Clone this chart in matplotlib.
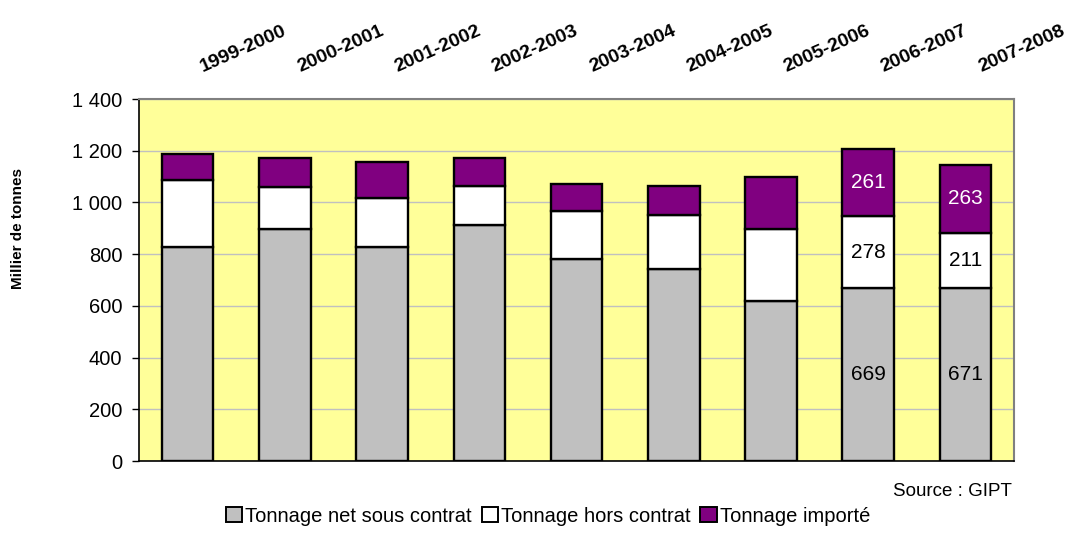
import matplotlib
matplotlib.use('Agg')
import matplotlib.pyplot as plt
import matplotlib.transforms as mtransforms
from matplotlib.patches import Patch
import numpy as np

plt.rcParams['font.family'] = ['Liberation Sans', 'DejaVu Sans']

# --- data (milliers de tonnes) ---
campagnes = ['1999-2000', '2000-2001', '2001-2002', '2002-2003', '2003-2004',
             '2004-2005', '2005-2006', '2006-2007', '2007-2008']
sous_contrat = [828, 896, 826, 911, 782, 744, 617, 669, 671]
hors_contrat = [259, 165, 190, 154, 186, 206, 281, 278, 211]
importe = [100, 112, 141, 108, 105, 114, 200, 261, 263]
show_labels = [False, False, False, False, False, False, False, True, True]

series_names = ['Tonnage net sous contrat', 'Tonnage hors contrat', 'Tonnage importé']
colors = ['#C0C0C0', '#FFFFFF', '#800080']
label_colors = ['black', 'black', 'white']

# --- figure ---
fig = plt.figure(figsize=(10.7, 5.37), dpi=100)
ax = fig.add_axes([0.1299, 0.1415, 0.8178, 0.6741])
ax.set_facecolor('#FFFF99')

x = np.arange(len(campagnes))
bottom = np.zeros(len(campagnes))
for vals, col, lcol in zip([sous_contrat, hors_contrat, importe], colors, label_colors):
    vals = np.array(vals)
    ax.bar(x, vals, 0.53, bottom=bottom, color=col, edgecolor='black',
           linewidth=1.7, zorder=3)
    for i in range(len(x)):
        if show_labels[i]:
            ax.text(x[i], bottom[i] + vals[i] / 2, str(vals[i]), ha='center',
                    va='center', fontsize=15, color=lcol, zorder=4)
    bottom += vals

ax.set_xlim(-0.5, len(campagnes) - 0.5)
ax.set_ylim(0, 1400)
ax.set_yticks(np.arange(0, 1401, 200))
ax.set_yticklabels([f'{v:,}'.replace(',', ' ') for v in range(0, 1401, 200)])
ax.tick_params(axis='y', labelsize=14.5, length=5, width=1, direction='out', pad=7)
ax.set_xticks([])
ax.yaxis.grid(True, color='#C0C0C0', linewidth=1, zorder=0)
ax.set_axisbelow(True)

for side in ['top', 'right']:
    ax.spines[side].set_color('#808080')
    ax.spines[side].set_linewidth(1.5)
for side in ['left', 'bottom']:
    ax.spines[side].set_color('black')
    ax.spines[side].set_linewidth(1.2)

# category labels above the plot, rotated
trans = mtransforms.offset_copy(ax.transData, fig=fig, x=56, y=0, units='dots')
lab_trans = mtransforms.blended_transform_factory(trans, fig.transFigure)
for i, c in enumerate(campagnes):
    ax.text(x[i], 1 - 49 / 537, c, transform=lab_trans, fontsize=14,
            fontweight='bold', rotation=24, ha='center', va='center')

fig.text(0.0165, 1 - 229 / 537, 'Millier de tonnes', rotation=90, fontsize=11,
         fontweight='bold', ha='center', va='center')
fig.text(0.946, 1 - 491 / 537, 'Source : GIPT', fontsize=13.5, ha='right', va='center')

handles = [Patch(facecolor=c, edgecolor='black', linewidth=1.4) for c in colors]
fig.legend(handles, series_names, loc='center', bbox_to_anchor=(0.512, 1 - 516 / 537),
           ncol=3, frameon=False, fontsize=14.5, handlelength=0.8, handleheight=0.8,
           handletextpad=0.15, columnspacing=0.5, borderaxespad=0)

fig.savefig('out.png', dpi=100)
